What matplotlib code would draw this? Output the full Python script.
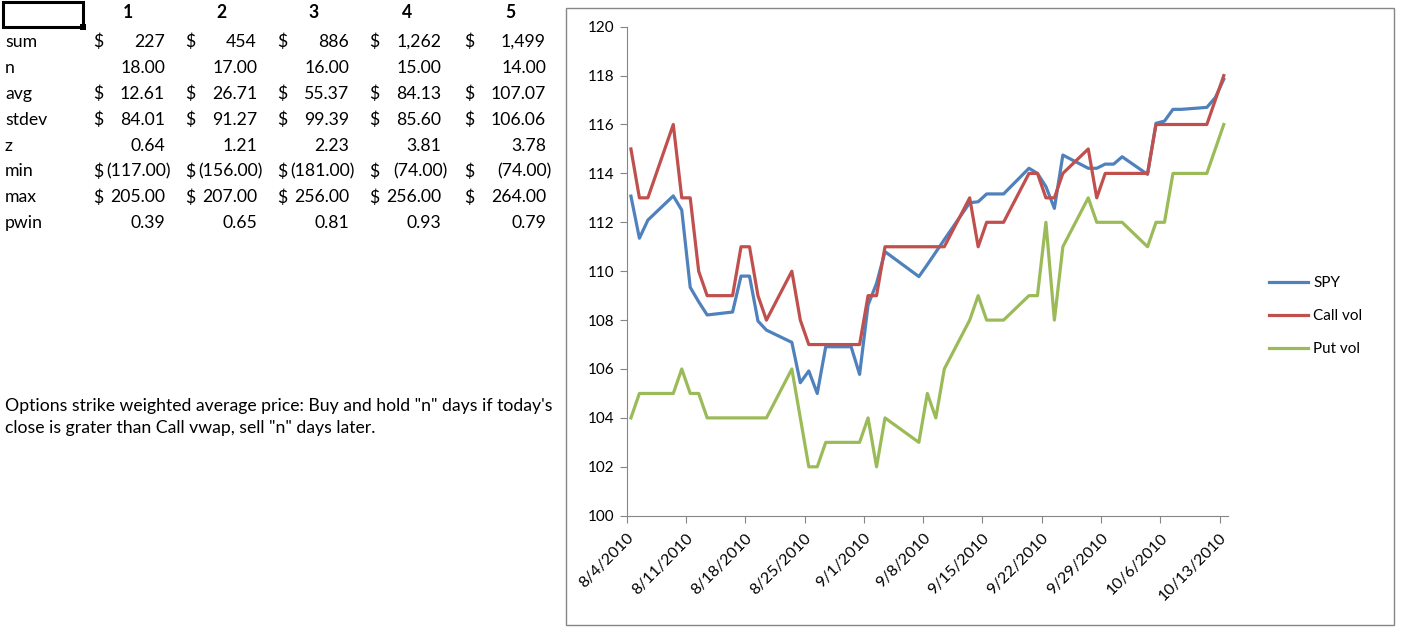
import numpy as np
import pandas as pd
import matplotlib
matplotlib.use('Agg')
import matplotlib.pyplot as plt
from matplotlib.patches import Rectangle

plt.rcParams['font.family'] = ['Lato', 'DejaVu Sans']

W, H = 1406, 643

# chart data
dates = ['2010-08-04', '2010-08-05', '2010-08-06', '2010-08-09', '2010-08-10', '2010-08-11',
         '2010-08-12', '2010-08-13', '2010-08-16', '2010-08-17', '2010-08-18', '2010-08-19',
         '2010-08-20', '2010-08-23', '2010-08-24', '2010-08-25', '2010-08-26', '2010-08-27',
         '2010-08-30', '2010-08-31', '2010-09-01', '2010-09-02', '2010-09-03', '2010-09-07',
         '2010-09-08', '2010-09-09', '2010-09-10', '2010-09-13', '2010-09-14', '2010-09-15',
         '2010-09-16', '2010-09-17', '2010-09-20', '2010-09-21', '2010-09-22', '2010-09-23',
         '2010-09-24', '2010-09-27', '2010-09-28', '2010-09-29', '2010-09-30', '2010-10-01',
         '2010-10-04', '2010-10-05', '2010-10-06', '2010-10-07', '2010-10-08', '2010-10-11',
         '2010-10-12', '2010-10-13']
spy = [113.07, 111.35, 112.09, 113.08, 112.5, 109.34, 108.75, 108.21, 108.33, 109.8,
       109.8, 107.96, 107.59, 107.09, 105.44, 105.92, 105.0, 106.91, 106.91, 105.78,
       108.62, 109.5, 110.8, 109.78, 110.27, 110.78, 111.29, 112.8, 112.84, 113.16,
       113.16, 113.16, 114.21, 114.0, 113.46, 112.57, 114.75, 114.21, 114.21, 114.38,
       114.38, 114.68, 113.96, 116.05, 116.14, 116.62, 116.62, 116.70, 117.1, 117.85]
call_vol = [115, 113, 113, 116, 113, 113, 110, 109, 109, 111, 111, 109, 108, 110, 108, 107, 107,
            107, 107, 107, 109, 109, 111, 111, 111, 111, 111, 113, 111, 112, 112, 112, 114, 114,
            113, 113, 114, 115, 113, 114, 114, 114, 114, 116, 116, 116, 116, 116, 117, 118]
put_vol = [104, 105, 105, 105, 106, 105, 105, 104, 104, 104, 104, 104, 104, 106, 104, 102, 102,
           103, 103, 103, 104, 102, 104, 103, 105, 104, 106, 108, 109, 108, 108, 108, 109, 109,
           112, 108, 111, 113, 112, 112, 112, 112, 111, 112, 112, 114, 114, 114, 115, 116]

# table data
col_headers = ['1', '2', '3', '4', '5']
row_labels = ['sum', 'n', 'avg', 'stdev', 'z', 'min', 'max', 'pwin']
sum_vals = [227, 454, 886, 1262, 1499]
n_vals = [18, 17, 16, 15, 14]
avg_vals = [12.61, 26.71, 55.37, 84.13, 107.07]
stdev_vals = [84.01, 91.27, 99.39, 85.60, 106.06]
z_vals = [0.64, 1.21, 2.23, 3.81, 3.78]
min_vals = [-117, -156, -181, -74, -74]
max_vals = [205, 207, 256, 256, 264]
pwin_vals = [0.39, 0.65, 0.81, 0.93, 0.79]

note = ('Options strike weighted average price: Buy and hold "n" days if today\'s\n'
        'close is grater than Call vwap, sell "n" days later.')

fig = plt.figure(figsize=(W / 100, H / 100), dpi=100)


def px(x, y):
    return x / W, 1 - y / H


# ---- left table ----
tsize = 12.7
dollar_x = [93, 185, 277, 369, 464]
right_x = [165, 257, 349, 441, 546]
head_x = [128, 221, 314, 407, 510]
row_y0 = 42
row_dy = 25.9

for hx, h in zip(head_x, col_headers):
    fig.text(*px(hx, 13), h, ha='center', va='center', fontsize=tsize, fontweight='bold')

rows = [(sum_vals, True, 0), (n_vals, False, 2), (avg_vals, True, 2), (stdev_vals, True, 2),
        (z_vals, False, 2), (min_vals, True, 2), (max_vals, True, 2), (pwin_vals, False, 2)]
for i, (lab, (vals, dollar, dec)) in enumerate(zip(row_labels, rows)):
    y = row_y0 + i * row_dy
    fig.text(*px(5, y), lab, ha='left', va='center', fontsize=tsize)
    for j, v in enumerate(vals):
        if dollar:
            fig.text(*px(dollar_x[j], y), '$', ha='left', va='center', fontsize=tsize)
        s = f'{abs(v):,.{dec}f}'
        xr = right_x[j]
        if v < 0:
            s = '(' + s + ')'
            xr += 6
        fig.text(*px(xr, y), s, ha='right', va='center', fontsize=tsize)

# selected cell
fig.patches.append(Rectangle(px(3, 27), 80 / W, 25 / H, transform=fig.transFigure,
                             fill=False, edgecolor='black', linewidth=2.2))
fig.patches.append(Rectangle(px(80, 30), 6 / W, 6 / H, transform=fig.transFigure,
                             facecolor='black', edgecolor='none'))

fig.text(*px(5, 417), note, ha='left', va='center', fontsize=tsize, linespacing=1.52)

# ---- chart ----
fig.patches.append(Rectangle(px(566, 625), (1394 - 566) / W, (625 - 8) / H,
                             transform=fig.transFigure, fill=False,
                             edgecolor='#868686', linewidth=1))

x0, x1 = 626.7, 1228
y_top, y_bot = 26.7, 515.7
ax = fig.add_axes([x0 / W, 1 - y_bot / H, (x1 - x0) / W, (y_bot - y_top) / H])

t = pd.to_datetime(dates) + pd.Timedelta(hours=12)
ax.plot(t, spy, color='#4F81BD', lw=2.3, label='SPY')
ax.plot(t, call_vol, color='#C0504D', lw=2.3, label='Call vol')
ax.plot(t, put_vol, color='#9BBB59', lw=2.3, label='Put vol')

start = pd.Timestamp('2010-08-04')
ax.set_xlim(start, pd.Timestamp('2010-10-14'))
ax.set_ylim(100, 120)
ticks = [start + pd.Timedelta(days=7 * k) for k in range(11)]
ax.set_xticks(ticks)
ax.set_xticklabels([f'{d.month}/{d.day}/{d.year}' for d in ticks], rotation=45,
                   ha='right', rotation_mode='anchor', fontsize=11.5)
ax.set_yticks(np.arange(100, 121, 2))
ax.tick_params(axis='y', labelsize=11, length=5, color='#868686', pad=4)
ax.tick_params(axis='x', length=5, color='#868686', pad=6)
for s in ['top', 'right']:
    ax.spines[s].set_visible(False)
for s in ['left', 'bottom']:
    ax.spines[s].set_color('#868686')

# legend centred on the middle entry (y = 316 px)
ax.legend(loc='center left', bbox_to_anchor=((1255 - x0) / (x1 - x0), (y_bot - 316) / (y_bot - y_top)),
          frameon=False, fontsize=11, handlelength=2.6, labelspacing=1.25, handletextpad=0.3)

fig.savefig('out.png', dpi=100)
